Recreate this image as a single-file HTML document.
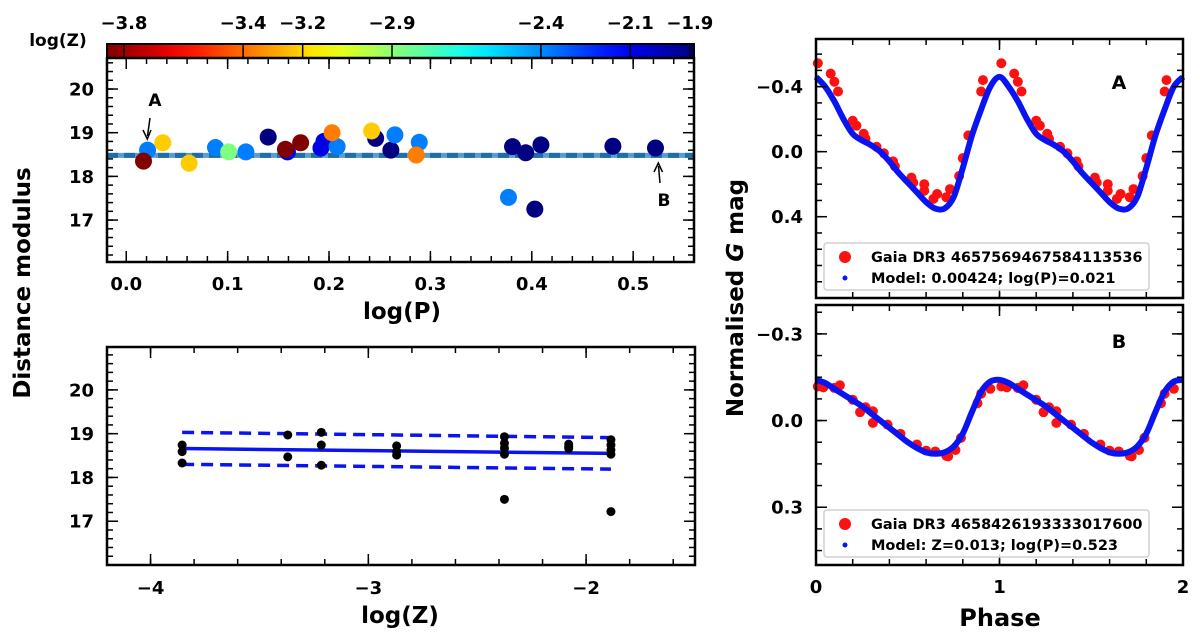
<!DOCTYPE html>
<html><head><meta charset="utf-8"><style>
html,body{margin:0;padding:0;background:#fff;}
svg{display:block;font-family:"DejaVu Sans","Liberation Sans",sans-serif;font-weight:bold;}
</style></head><body>
<svg id="fig" width="1200" height="637" viewBox="0 0 1200 637" xmlns="http://www.w3.org/2000/svg"></svg>
<script>
// ---------- DATA ----------
const topLogP = [0.140,0.246,0.261,0.381,0.394,0.409,0.403,0.480,0.522,
  0.159,0.192,0.195,
  0.021,0.088,0.118,0.208,0.265,0.289,0.377,
  0.101,
  0.203,0.286,
  0.036,0.062,0.242,
  0.017,0.157,0.172];
const topDM = [18.90,18.87,18.60,18.68,18.54,18.72,17.25,18.69,18.65,
  18.56,18.65,18.80,
  18.60,18.66,18.56,18.68,18.95,18.78,17.52,
  18.56,
  19.00,18.49,
  18.77,18.30,19.04,
  18.35,18.62,18.77];
const topLogZ = [-1.886,-1.886,-1.886,-1.886,-1.886,-1.886,-1.886,-1.886,-1.886,
  -2.08,-2.08,-2.08,
  -2.375,-2.375,-2.375,-2.375,-2.375,-2.375,-2.375,
  -2.87,
  -3.37,-3.37,
  -3.216,-3.216,-3.216,
  -3.855,-3.855,-3.855];
const meanDM = 18.48;
const cbarTicks = [-3.8,-3.4,-3.2,-2.9,-2.4,-2.1,-1.9];
const cbarRange = [-3.857,-1.886];
const botLogZ = [-3.855,-3.855,-3.855,-3.37,-3.37,-3.216,-3.216,-3.216,-2.87,-2.87,-2.87,
  -2.375,-2.375,-2.375,-2.375,-2.375,-2.08,-2.08,-2.08,-1.886,-1.886,-1.886,-1.886,-1.886];
const botDM = [18.74,18.59,18.33,18.97,18.47,19.03,18.74,18.28,18.72,18.59,18.51,
  18.93,18.78,18.67,18.53,17.50,18.76,18.70,18.66,18.86,18.74,18.63,18.53,17.22];
const fitZ = [-3.855,-1.886];
const fitMid = [18.66,18.55];
const fitUp = [19.03,18.91];
const fitLo = [18.30,18.19];
const modelPhase = [0,0.05,0.1,0.15,0.2,0.25,0.3,0.35,0.4,0.45,0.5,0.55,0.6,0.65,0.7,0.75,0.8,0.85,0.9,0.95,1.0];
const modelA = [-0.46,-0.40,-0.31,-0.20,-0.11,-0.07,-0.04,0.00,0.06,0.13,0.19,0.25,0.31,0.35,0.35,0.28,0.10,-0.10,-0.26,-0.40,-0.46];
const modelB = [-0.141,-0.13,-0.11,-0.09,-0.07,-0.05,-0.025,0.00,0.025,0.05,0.075,0.095,0.11,0.115,0.11,0.09,0.045,-0.03,-0.10,-0.135,-0.141];
const obsAPhase = [0.01,0.08,0.10,0.12,0.20,0.22,0.26,0.27,0.33,0.37,0.42,0.43,0.52,0.53,0.59,0.59,0.64,0.66,0.71,0.73,0.78,0.80,0.83,0.90,0.91];
const obsAMag = [-0.544,-0.48,-0.43,-0.37,-0.19,-0.16,-0.11,-0.08,-0.03,0.01,0.06,0.09,0.16,0.19,0.20,0.24,0.29,0.26,0.28,0.23,0.15,0.04,-0.10,-0.37,-0.44];
const obsBPhase = [0.01,0.04,0.10,0.13,0.20,0.24,0.27,0.31,0.31,0.39,0.46,0.55,0.60,0.65,0.71,0.72,0.76,0.79,0.88,0.90,0.95];
const obsBMag = [-0.118,-0.115,-0.113,-0.122,-0.072,-0.029,-0.046,-0.032,0.008,0.014,0.046,0.083,0.104,0.107,0.122,0.124,0.102,0.06,-0.06,-0.093,-0.11];

// ---------- HELPERS ----------
const NS="http://www.w3.org/2000/svg";
const svg=document.getElementById('fig');
const MAJ=11, MIN=6;
function mk(tag,attrs,parent){const e=document.createElementNS(NS,tag);for(const k in attrs)e.setAttribute(k,attrs[k]);(parent||svg).appendChild(e);return e;}
function lin(d0,d1,r0,r1){return v=>r0+(v-d0)/(d1-d0)*(r1-r0);}
function txt(x,y,s,size,anchor,parent,name){const t=mk('text',{x:x,y:y,'font-size':size,'text-anchor':anchor||'middle',fill:'#000'},parent);t.textContent=s;


return t;}
function jet(x){const c=v=>Math.round(255*Math.max(0,Math.min(1,v)));return `rgb(${c(1.5-Math.abs(4*x-3))},${c(1.5-Math.abs(4*x-2))},${c(1.5-Math.abs(4*x-1))})`;}
function zcol(z){return jet(1-(z-cbarRange[0])/(cbarRange[1]-cbarRange[0]));}
function ticksX(g,sx,y0,y1,vals,len){vals.forEach(v=>{const x=sx(v);mk('line',{x1:x,x2:x,y1:y1,y2:y1-len,stroke:'#000','stroke-width':1.5},g);mk('line',{x1:x,x2:x,y1:y0,y2:y0+len,stroke:'#000','stroke-width':1.5},g);});}
function ticksY(g,sy,x0,x1,vals,len){vals.forEach(v=>{const y=sy(v);mk('line',{x1:x0,x2:x0+len,y1:y,y2:y,stroke:'#000','stroke-width':1.5},g);mk('line',{x1:x1,x2:x1-len,y1:y,y2:y,stroke:'#000','stroke-width':1.5},g);});}
function range(a,b,s){const r=[];for(let v=a;v<=b+1e-9;v+=s)r.push(+v.toFixed(4));return r;}
function box(g,x0,x1,y0,y1){const r=mk('rect',{x:x0,y:y0,width:x1-x0,height:y1-y0,fill:'none',stroke:'#000','stroke-width':2.5},g);

}
function smoothPath(pts){let d=`M${pts[0][0]},${pts[0][1]}`;for(let i=0;i<pts.length-1;i++){const p0=pts[Math.max(0,i-1)],p1=pts[i],p2=pts[i+1],p3=pts[Math.min(pts.length-1,i+2)];
d+=` C${p1[0]+(p2[0]-p0[0])/6},${p1[1]+(p2[1]-p0[1])/6} ${p2[0]-(p3[0]-p1[0])/6},${p2[1]-(p3[1]-p1[1])/6} ${p2[0]},${p2[1]}`;}return d;}
function fmt(v){return (v<0?'\u2212':'')+Math.abs(v).toFixed(1);}

// ---------- TOP-LEFT ----------
(function(){
const g=mk('g',{});
const X0=107,X1=694,Y0=58,Y1=262;
const sx=lin(-0.019,0.56,X0,X1), sy=lin(16.04,20.71,Y1,Y0);
const cb=mk('g',{},g);
const cx=lin(cbarRange[0],cbarRange[1],X0,X1);
const defs=mk('defs',{},cb);const lg=mk('linearGradient',{id:'jetr',x1:0,x2:1,y1:0,y2:0},defs);
for(let i=0;i<=20;i++){mk('stop',{offset:i/20,'stop-color':jet(1-i/20)},lg);}
mk('rect',{x:X0,y:44,width:X1-X0,height:14,fill:'url(#jetr)',stroke:'#000','stroke-width':2},cb);
cbarTicks.forEach(v=>{const x=cx(v);mk('line',{x1:x,x2:x,y1:44,y2:58,stroke:'#000','stroke-width':1.5},cb);txt(x,29,fmt(v),18,'middle',cb,'colorbar-tick-label');});
txt(58,46,'log(Z)',17,'middle',cb,'colorbar-title');
const ly=sy(meanDM);
const l1=mk('line',{x1:X0,x2:X1,y1:ly,y2:ly,stroke:'#5b9bd0','stroke-width':5},g);
mk('line',{x1:X0,x2:X1,y1:ly,y2:ly,stroke:'#1f6ea8','stroke-width':5,'stroke-dasharray':'11,6'},g);
topLogP.forEach((p,i)=>{const c=mk('circle',{cx:sx(p),cy:sy(topDM[i]),r:8.5,fill:zcol(topLogZ[i])},g);

});
box(g,X0,X1,Y0,Y1);
ticksX(g,sx,Y0,Y1,range(0,0.5,0.1),MAJ);ticksX(g,sx,Y0,Y1,range(0,0.56,0.02),MIN);
ticksY(g,sy,X0,X1,[17,18,19,20],MAJ);ticksY(g,sy,X0,X1,range(16.2,20.6,0.2),MIN);
[0,0.1,0.2,0.3,0.4,0.5].forEach(v=>txt(sx(v),290,v.toFixed(1),18,'middle',g,'x-tick-label'));
[17,18,19,20].forEach(v=>txt(94,sy(v)+6.5,String(v),18,'end',g,'y-tick-label'));
txt(402,319,'log(P)',23,'middle',g,'x-axis-title');
txt(155,106,'A',17,'middle',g,'annotation-a');
mk('line',{x1:150,y1:118,x2:147.5,y2:136,stroke:'#000','stroke-width':1.5},g);
mk('path',{d:'M143,130 L147.3,139 L151,130',fill:'none',stroke:'#000','stroke-width':1.5},g);
txt(664,206,'B',17,'middle',g,'annotation-b');
mk('line',{x1:660,y1:183,x2:658.5,y2:166,stroke:'#000','stroke-width':1.5},g);
mk('path',{d:'M654,172 L658.3,163 L662.5,172',fill:'none',stroke:'#000','stroke-width':1.5},g);
})();

// ---------- BOTTOM-LEFT ----------
(function(){
const g=mk('g',{});
const X0=107,X1=695,Y0=347,Y1=565;
const sx=lin(-4.2,-1.5,X0,X1), sy=lin(16.0,20.98,Y1,Y0);
const mid=mk('line',{x1:sx(fitZ[0]),x2:sx(fitZ[1]),y1:sy(fitMid[0]),y2:sy(fitMid[1]),stroke:'#0a14f0','stroke-width':3.5},g);

[fitUp,fitLo].forEach(a=>{const l=mk('line',{x1:sx(fitZ[0]),x2:sx(fitZ[1]),y1:sy(a[0]),y2:sy(a[1]),stroke:'#0a14f0','stroke-width':3.5,'stroke-dasharray':'12,7'},g);
});
botLogZ.forEach((z,i)=>{const c=mk('circle',{cx:sx(z),cy:sy(botDM[i]),r:4.5,fill:'#000'},g);

});
box(g,X0,X1,Y0,Y1);
ticksX(g,sx,Y0,Y1,[-4,-3,-2],MAJ);ticksX(g,sx,Y0,Y1,range(-4.2,-1.6,0.2),MIN);
ticksY(g,sy,X0,X1,[17,18,19,20],MAJ);ticksY(g,sy,X0,X1,range(16.2,20.8,0.2),MIN);
[-4,-3,-2].forEach(v=>txt(sx(v),594,'\u2212'+Math.abs(v),18,'middle',g,'x-tick-label'));
[17,18,19,20].forEach(v=>txt(94,sy(v)+6.5,String(v),18,'end',g,'y-tick-label'));
txt(400,623,'log(Z)',23,'middle',g,'x-axis-title');
})();
txt(0,0,'Distance modulus',23,'middle',svg,'y-axis-title-left').setAttribute('transform','translate(30,283) rotate(-90)');

// ---------- RIGHT PANELS ----------
function lcPanel(name,Y0,Y1,ymin,ymax,major,minor,model,ph,mag,label,labelY,legTop,leg1,leg2){
const g=mk('g',{});
const X0=816,X1=1183;const sx=lin(0,2,X0,X1), sy=lin(ymin,ymax,Y0,Y1);
[0,1].forEach(k=>{ph.forEach((p,i)=>{const c=mk('circle',{cx:sx(p+k),cy:sy(mag[i]),r:5,fill:'#ff1010'},g);

});});
const pts=[];[0,1].forEach(k=>modelPhase.forEach((p,i)=>{if(k===1&&i===0)return;pts.push([sx(p+k),sy(model[i])]);}));
const path=mk('path',{d:smoothPath(pts),fill:'none',stroke:'#0a14f0','stroke-width':6,'stroke-linejoin':'round'},g);

box(g,X0,X1,Y0,Y1);
ticksX(g,sx,Y0,Y1,[0,1,2],MAJ);ticksX(g,sx,Y0,Y1,range(0,2,0.2),MIN);
ticksY(g,sy,X0,X1,major,MAJ);ticksY(g,sy,X0,X1,minor,MIN);
major.forEach(v=>txt(803,sy(v)+6.5,fmt(v),18,'end',g,'y-tick-label'));
txt(1119,labelY,label,19,'middle',g,'panel-label');
const lgd=mk('g',{},g);
mk('rect',{x:824,y:legTop,width:325,height:47,rx:3,fill:'#fff','fill-opacity':0.85,stroke:'#d0d0d0','stroke-width':1.5},lgd);
mk('circle',{cx:845,cy:legTop+14,r:6,fill:'#ff1010'},lgd);
mk('circle',{cx:845,cy:legTop+35,r:2.5,fill:'#0a14f0'},lgd);
txt(871,legTop+19,leg1,14.5,'start',lgd,'legend-entry-observed');
txt(871,legTop+40,leg2,14.5,'start',lgd,'legend-entry-model');
}
lcPanel('light-curve-a',39,298,-0.693,0.9,[-0.4,0,0.4],range(-0.6,0.8,0.1),modelA,obsAPhase,obsAMag,'A',89,243,'Gaia DR3 4657569467584113536','Model: 0.00424; log(P)=0.021');
lcPanel('light-curve-b',305,565,-0.4,0.5,[-0.3,0,0.3],range(-0.375,0.45,0.075),modelB,obsBPhase,obsBMag,'B',348,510,'Gaia DR3 4658426193333017600','Model: Z=0.013; log(P)=0.523');
[0,1,2].forEach(v=>txt(lin(0,2,816,1183)(v),593,String(v),18,'middle',svg,'x-tick-label'));
txt(1000,626,'Phase',24,'middle',svg,'x-axis-title-phase');
(function(){const t=mk('text',{x:0,y:0,'font-size':23,'text-anchor':'middle',transform:'translate(743,298) rotate(-90)'});

t.innerHTML='Normalised <tspan font-style="italic">G</tspan> mag';})();
</script>
</body></html>
